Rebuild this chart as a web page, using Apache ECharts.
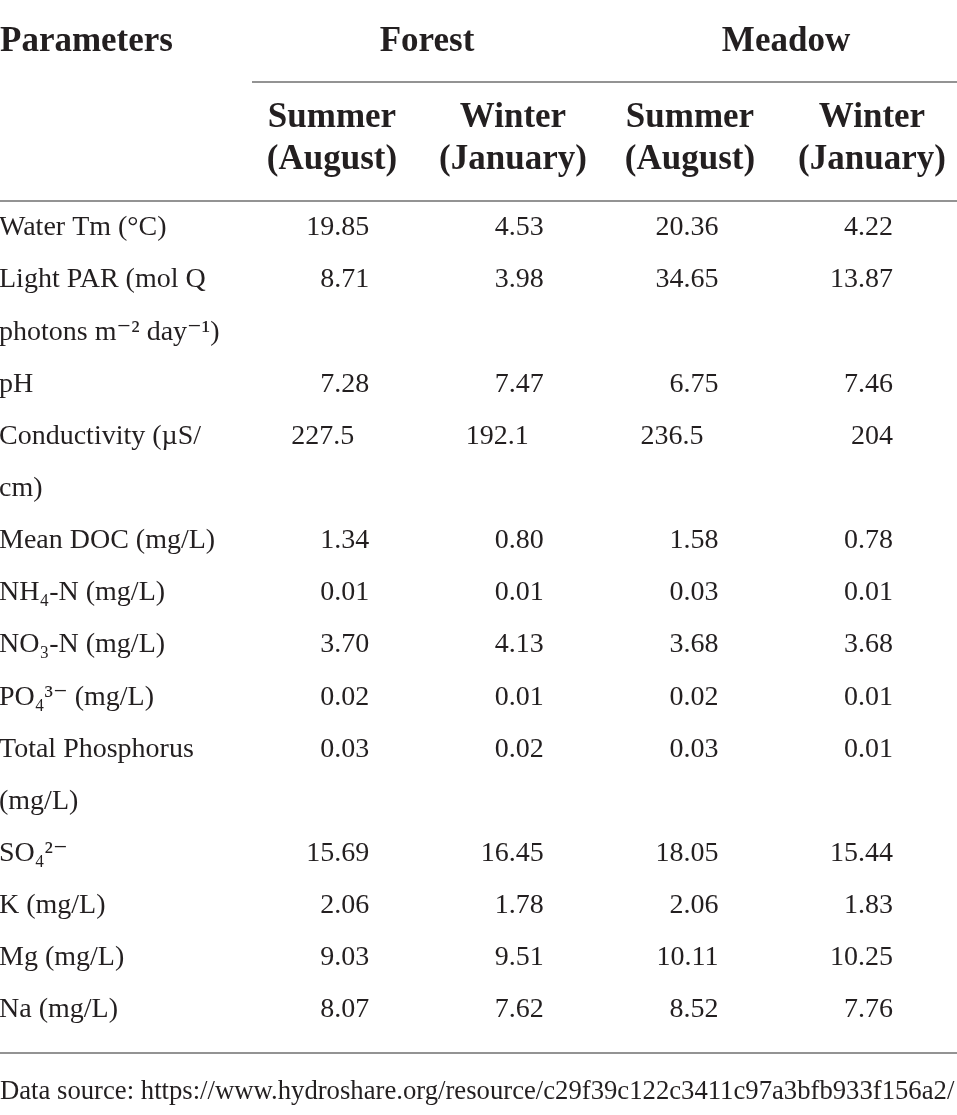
<!DOCTYPE html>
<html>
<head>
<meta charset="utf-8">
<script src="https://cdn.jsdelivr.net/npm/echarts@6/dist/echarts.min.js"></script>
<style>
  html, body { margin: 0; padding: 0; background: #fff; }
  #main { width: 957px; height: 1115px; }
</style>
</head>
<body>
<div id="main"></div>
<script>
// table content
const groups = ['Forest', 'Meadow']
const seasons = ['Summer\n(August)', 'Winter\n(January)', 'Summer\n(August)', 'Winter\n(January)']
const parameters = [
    ['Water Tm (°C)'],
    ['Light PAR (mol Q', 'photons m⁻² day⁻¹)'],
    ['pH'],
    ['Conductivity (µS/', 'cm)'],
    ['Mean DOC (mg/L)'],
    ['NH₄-N (mg/L)'],
    ['NO₃-N (mg/L)'],
    ['PO₄³⁻ (mg/L)'],
    ['Total Phosphorus', '(mg/L)'],
    ['SO₄²⁻'],
    ['K (mg/L)'],
    ['Mg (mg/L)'],
    ['Na (mg/L)']
]
const forestSummer = ['19.85', '8.71', '7.28', '227.5', '1.34', '0.01', '3.70', '0.02', '0.03', '15.69', '2.06', '9.03', '8.07']
const forestWinter = ['4.53', '3.98', '7.47', '192.1', '0.80', '0.01', '4.13', '0.01', '0.02', '16.45', '1.78', '9.51', '7.62']
const meadowSummer = ['20.36', '34.65', '6.75', '236.5', '1.58', '0.03', '3.68', '0.02', '0.03', '18.05', '2.06', '10.11', '8.52']
const meadowWinter = ['4.22', '13.87', '7.46', '204', '0.78', '0.01', '3.68', '0.01', '0.01', '15.44', '1.83', '10.25', '7.76']
const sourceNote = 'Data source: https://www.hydroshare.org/resource/c29f39c122c3411c97a3bfb933f156a2/'

const FONT = '"Liberation Serif", "DejaVu Serif", serif'
const INK = '#231f20'
const RULE = '#939393'
const GRID_LEFT = 194.5

// every text line of the first column gets one slot on the y axis
const rowLines = []
const rowStart = []
parameters.forEach(lines => {
    rowStart.push(rowLines.length)
    lines.forEach(l => rowLines.push(l))
})

const columns = [forestSummer, forestWinter, meadowSummer, meadowWinter]
const cells = []
columns.forEach((col, c) => {
    col.forEach((v, r) => {
        // decimal alignment: one-digit fractions sit one figure further left
        const oneDecimal = /\.\d$/.test(v)
        cells.push({
            value: [c + 1, rowStart[r], v],
            label: { offset: [oneDecimal ? -15 : 0, 0] }
        })
    })
})

const myChart = echarts.init(document.getElementById('main'))
myChart.setOption({
    backgroundColor: '#fff',
    animation: false,
    grid: { left: GRID_LEFT, right: 64, top: 228, bottom: 105, outerBoundsMode: 'none', containLabel: false },
    xAxis: { type: 'value', min: 0, max: 4, show: false },
    yAxis: {
        type: 'category',
        inverse: true,
        boundaryGap: false,
        data: rowLines,
        axisLine: { show: false },
        axisTick: { show: false },
        splitLine: { show: false },
        axisLabel: {
            interval: 0,
            hideOverlap: false,
            margin: GRID_LEFT + 1,
            align: 'left',
            fontFamily: FONT,
            fontSize: 28,
            color: INK
        }
    },
    series: [
        {
            type: 'scatter',
            symbolSize: 0,
            itemStyle: { opacity: 1 },
            data: cells,
            label: {
                show: true,
                position: 'left',
                distance: 0,
                fontFamily: FONT,
                fontSize: 28,
                color: INK,
                formatter: p => p.value[2]
            }
        }
    ],
    graphic: [
        { type: 'text', x: 0, y: 42, style: { text: 'Parameters', font: 'bold 35px ' + FONT, fill: INK, verticalAlign: 'middle' } },
        { type: 'text', x: 427, y: 42, style: { text: groups[0], font: 'bold 35px ' + FONT, fill: INK, align: 'center', verticalAlign: 'middle' } },
        { type: 'text', x: 786, y: 42, style: { text: groups[1], font: 'bold 35px ' + FONT, fill: INK, align: 'center', verticalAlign: 'middle' } },
        ...seasons.map((s, i) => ({
            type: 'text', x: [332, 513, 690, 872][i], y: 139,
            style: { text: s, font: 'bold 35px ' + FONT, lineHeight: 42, fill: INK, align: 'center', verticalAlign: 'middle' }
        })),
        { type: 'line', shape: { x1: 252, y1: 82, x2: 957, y2: 82 }, style: { stroke: RULE, lineWidth: 2 } },
        { type: 'line', shape: { x1: 0, y1: 201, x2: 957, y2: 201 }, style: { stroke: RULE, lineWidth: 2 } },
        { type: 'line', shape: { x1: 0, y1: 1053, x2: 957, y2: 1053 }, style: { stroke: RULE, lineWidth: 2 } },
        { type: 'text', x: 0, y: 1092, style: { text: sourceNote, font: '26.7px ' + FONT, fill: INK, verticalAlign: 'middle' } }
    ]
})
</script>
</body>
</html>
